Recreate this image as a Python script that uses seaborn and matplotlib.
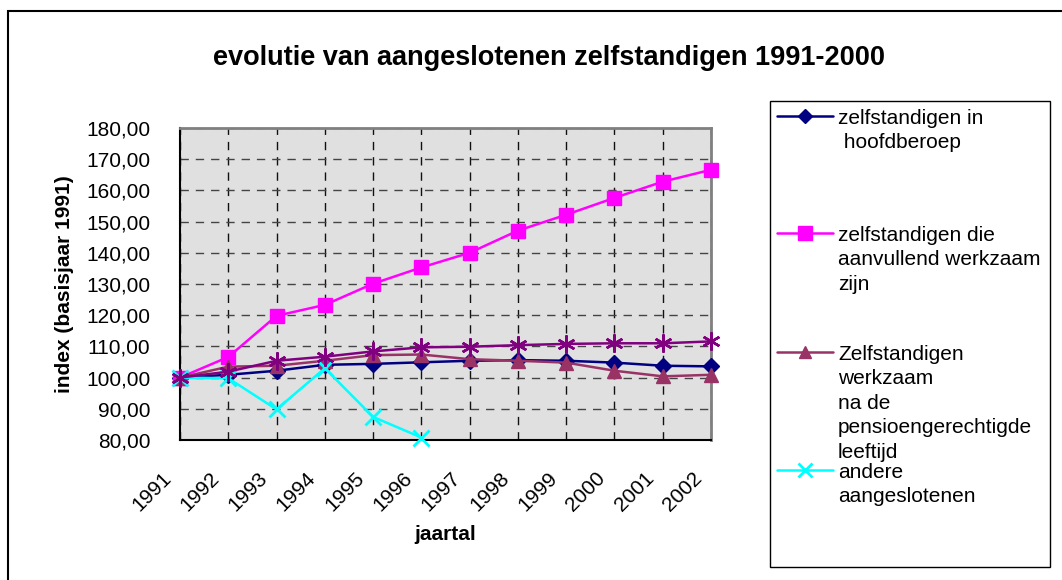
import numpy as np
import pandas as pd
import seaborn as sns
import matplotlib.pyplot as plt
from matplotlib.lines import Line2D
from matplotlib.patches import Rectangle
from matplotlib.ticker import FuncFormatter
from matplotlib.transforms import ScaledTranslation

# data (index, basisjaar 1991)
jaren = list(range(1991, 2003))
hoofdberoep = [100.0, 100.9, 102.2, 104.1, 104.4, 104.9, 105.4, 105.6, 105.4, 104.8, 103.8, 103.6]
aanvullend = [100.0, 106.6, 119.8, 123.3, 130.1, 135.3, 140.0, 147.1, 152.2, 157.6, 162.8, 166.6]
pensioen = [100.0, 103.5, 103.8, 105.4, 107.2, 107.4, 105.9, 105.4, 104.8, 102.2, 100.4, 100.9]
andere = [100.0, 99.8, 89.8, 103.0, 87.4, 80.8, np.nan, np.nan, np.nan, np.nan, np.nan, np.nan]
totaal = [100.0, 101.9, 105.4, 106.7, 108.4, 109.7, 109.9, 110.4, 110.8, 111.0, 111.0, 111.6]

labels = ["zelfstandigen in\n hoofdberoep",
          "zelfstandigen die\naanvullend werkzaam\nzijn",
          "Zelfstandigen\nwerkzaam\nna de\npensioengerechtigde\nleeftijd",
          "andere\naangeslotenen",
          "totaal"]

df = pd.DataFrame({"jaar": jaren, labels[0]: hoofdberoep, labels[1]: aanvullend,
                   labels[2]: pensioen, labels[3]: andere, labels[4]: totaal})

sns.set_style("white")
plt.rcParams["font.family"] = ["Liberation Sans", "DejaVu Sans"]
plt.rcParams["text.color"] = "black"
plt.rcParams["axes.labelcolor"] = "black"
plt.rcParams["xtick.color"] = "black"
plt.rcParams["ytick.color"] = "black"

W, H = 1062, 580
fig = plt.figure(figsize=(W / 100, H / 100), dpi=100)
ax = fig.add_axes([180 / W, 1 - 440 / H, (711 - 180) / W, (440 - 128) / H])
ax.set_facecolor("#E0E0E0")

# stijl per reeks: kleur, marker, grootte, mew
stijl = [
    ("#000080", "D", 8, 1),
    ("#FF00FF", "s", 10.5, 1),
    ("#993366", "^", 10, 1),
    ("#00FFFF", "x", 11, 2),
    ("#800080", (6, 2, 0), 13, 1.8),
]

for lab, (kleur, mk, ms, mew) in zip(labels, stijl):
    sns.lineplot(data=df, x="jaar", y=lab, ax=ax, color=kleur, marker=mk,
                 markersize=ms, markeredgewidth=mew, markeredgecolor=kleur,
                 linewidth=1.8, clip_on=False, zorder=3)

ax.set_xlim(1991, 2002)
ax.set_ylim(80, 180)
ax.set_xticks(jaren)
ax.set_yticks(range(80, 181, 10))
ax.yaxis.set_major_formatter(FuncFormatter(lambda v, p: f"{v:.2f}".replace(".", ",")))
ax.tick_params(axis="both", direction="out", labelsize=15, colors="black", width=1)
ax.tick_params(axis="y", length=6, pad=15.5)
ax.tick_params(axis="x", length=5, pad=20.5)
shift = ScaledTranslation(-12 / 100, 0, fig.dpi_scale_trans)
for t in ax.get_xticklabels():
    t.set_rotation(45)
    t.set_ha("right")
    t.set_va("center")
    t.set_rotation_mode("anchor")
    t.set_transform(t.get_transform() + shift)

ax.xaxis.grid(True, color="#111111", linestyle=(0, (6, 5)), linewidth=1)
ax.yaxis.grid(True, color="#444444", linestyle=(0, (6, 5)), linewidth=1)
ax.set_axisbelow(True)

for s in ["left", "bottom"]:
    ax.spines[s].set_color("black")
    ax.spines[s].set_linewidth(1.5)
for s in ["top", "right"]:
    ax.spines[s].set_color("#808080")
    ax.spines[s].set_linewidth(2)

ax.set_xlabel("jaartal", fontsize=15, fontweight="bold", labelpad=7)
ax.set_ylabel("index (basisjaar 1991)", fontsize=15, fontweight="bold", labelpad=8.5)

fig.text(549 / W, 1 - 58 / H, "evolutie van aangeslotenen zelfstandigen 1991-2000",
         ha="center", va="center", fontsize=19.5, fontweight="bold")

# kader rond grafiek
fig.patches.append(Rectangle((8 / W, -0.01), 1.05, 1 - 11 / H + 0.01, transform=fig.transFigure,
                             fill=False, edgecolor="black", linewidth=1.5))

# legende (laatste reeks valt buiten het kader)
fig.patches.append(Rectangle((770 / W, 1 - 567 / H), (1050 - 770) / W, (567 - 101) / H,
                             transform=fig.transFigure, facecolor="white",
                             edgecolor="black", linewidth=1))
ys = [116, 233, 352, 470]
for lab, (kleur, mk, ms, mew), y in zip(labels[:4], stijl[:4], ys):
    yf = 1 - y / H
    fig.lines.append(Line2D([777 / W, 805 / W, 833 / W], [yf, yf, yf], transform=fig.transFigure,
                            color=kleur, linewidth=1.8, marker=mk, markevery=[1],
                            markersize=ms * 0.9, markeredgewidth=mew, markeredgecolor=kleur))
    fig.text(838 / W, 1 - (y - 7) / H, lab, ha="left", va="top", fontsize=15,
             linespacing=1.36)

fig.savefig("out.png", dpi=100)
